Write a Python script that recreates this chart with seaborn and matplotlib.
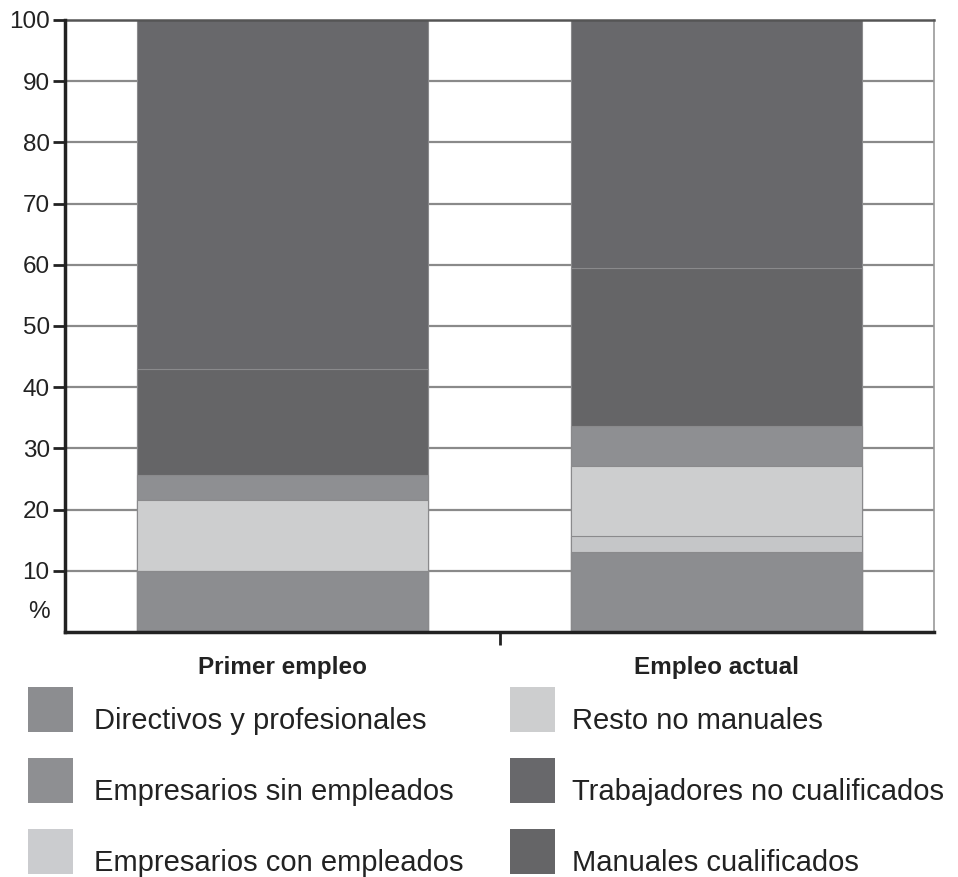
import matplotlib
matplotlib.use("Agg")
import matplotlib.pyplot as plt
from matplotlib.patches import Rectangle
from matplotlib import transforms
import seaborn as sns
import pandas as pd
import numpy as np

# ---- data ----
categories = ["Primer empleo", "Empleo actual"]
series_names = [
    "Directivos y profesionales",
    "Empresarios con empleados",
    "Resto no manuales",
    "Empresarios sin empleados",
    "Manuales cualificados",
    "Trabajadores no cualificados",
]
directivos = [10.0, 13.1]
emp_con = [0.0, 2.6]
resto_no_manuales = [11.5, 11.5]
emp_sin = [4.2, 6.5]
manuales_cual = [17.3, 25.7]
trab_no_cual = [57.0, 40.6]

yticks = [10, 20, 30, 40, 50, 60, 70, 80, 90, 100]

legend_col1 = ["Directivos y profesionales", "Empresarios sin empleados", "Empresarios con empleados"]
legend_col2 = ["Resto no manuales", "Trabajadores no cualificados", "Manuales cualificados"]

values = [directivos, emp_con, resto_no_manuales, emp_sin, manuales_cual, trab_no_cual]
colors = {
    "Directivos y profesionales": "#8c8d90",
    "Empresarios con empleados": "#c5c6c8",
    "Resto no manuales": "#cdcecf",
    "Empresarios sin empleados": "#8e8f92",
    "Manuales cualificados": "#656567",
    "Trabajadores no cualificados": "#68686b",
}
legend_colors = dict(colors)
legend_colors["Empresarios con empleados"] = "#cbcccf"

sns.set_theme(style="white")
plt.rcParams["font.family"] = ["Liberation Sans", "DejaVu Sans"]

W, H = 958, 877
fig = plt.figure(figsize=(W / 100, H / 100), dpi=100)
ax = fig.add_axes([65 / W, 1 - 632 / H, (934 - 65) / W, (632 - 20) / H])

# cumulative stacks
cum = np.cumsum(np.array(values), axis=0)
df_rows = []
for i, name in enumerate(series_names):
    for j, cat in enumerate(categories):
        df_rows.append({"cat": cat, "series": name, "cum": cum[i, j]})
df = pd.DataFrame(df_rows)

# grid behind
for t in yticks[:-1]:
    ax.axhline(t, color="#8a8a8a", lw=1.6, zorder=0)

# draw tallest first, then overlay lower cumulative sums
for name in reversed(series_names):
    sub = df[df["series"] == name]
    sns.barplot(data=sub, x="cat", y="cum", order=categories, color=colors[name],
                saturation=1, width=0.67, errorbar=None, ax=ax,
                edgecolor="#8a8a8c", linewidth=0.8, zorder=2)

ax.set_xlim(-0.5, 1.5)
ax.set_ylim(0, 100)
ax.set_xlabel("")
ax.set_ylabel("")
ax.set_yticks(yticks)
ax.set_yticklabels([str(t) for t in yticks])
ax.tick_params(axis="y", which="major", length=9, width=2, color="#222222",
               labelsize=17.5, pad=2, left=True, labelcolor="#222222")
ax.set_xticks([0, 1])
ax.set_xticklabels(categories, fontsize=17.5, fontweight="bold", color="#222222")
ax.tick_params(axis="x", which="major", length=0, pad=17, bottom=True)
ax.set_xticks([0.5], minor=True)
ax.tick_params(axis="x", which="minor", length=9, width=2, color="#222222", bottom=True)

for side in ["left", "bottom"]:
    ax.spines[side].set_color("#222222")
    ax.spines[side].set_linewidth(2.5)
    ax.spines[side].set_zorder(5)
ax.spines["top"].set_color("#555555")
ax.spines["top"].set_linewidth(1.8)
ax.spines["right"].set_color("#999999")
ax.spines["right"].set_linewidth(1.2)

trans = transforms.blended_transform_factory(ax.transAxes, ax.transData)
ax.text(-0.017, 3.2, "%", transform=trans, ha="right", va="center",
        fontsize=17.5, color="#222222")

# legend (two columns, three rows)
row_tops = [687, 758, 829]
sq = 45
for col_x, text_x, names in [(28, 94, legend_col1), (510, 572, legend_col2)]:
    for top, name in zip(row_tops, names):
        fig.add_artist(Rectangle((col_x / W, 1 - (top + sq) / H), sq / W, sq / H,
                                 transform=fig.transFigure, facecolor=legend_colors[name],
                                 edgecolor="none"))
        fig.text(text_x / W, 1 - (top + sq - 3) / H, name, ha="left", va="baseline",
                 fontsize=21, color="#222222")

fig.savefig("out.png", dpi=100, facecolor="white")
